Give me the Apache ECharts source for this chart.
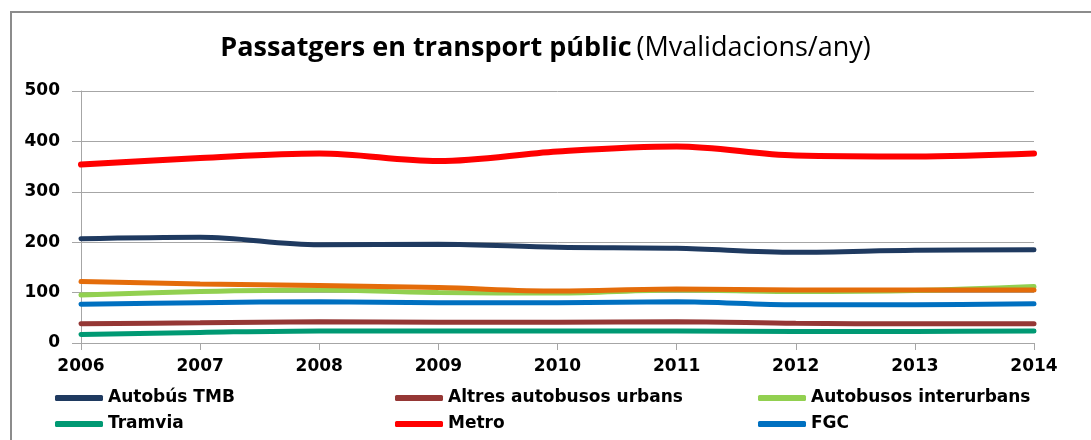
<!DOCTYPE html>
<html>
<head>
<meta charset="utf-8">
<title>Passatgers en transport públic</title>
<script src="https://cdn.jsdelivr.net/npm/echarts@6/dist/echarts.min.js"></script>
<style>
  html, body {
    margin: 0;
    padding: 0;
    background: #fff;
  }
  .frame {
    position: absolute;
    left: 10px;
    top: 11px;
    width: 1100px;
    height: 460px;
    border: 2px solid #8c8c8c;
    box-sizing: border-box;
  }
  #chart {
    position: absolute;
    left: 0;
    top: 0;
    width: 1091px;
    height: 440px;
  }
</style>
</head>
<body>
<div class="frame"></div>
<div id="chart"></div>
<script>
// anys (eix X)
const years = ['2006', '2007', '2008', '2009', '2010', '2011', '2012', '2013', '2014']

// Mvalidacions/any, llegits del gràfic
const autobusTmb = [207, 210, 195, 196, 190, 188, 180, 184, 185]
const altresUrbans = [38, 40, 42, 41, 41, 42, 39, 38, 38]
const interurbans = [95, 102, 105, 100, 99, 105, 102, 104, 112]
const tramvia = [17, 21, 24, 24, 24, 24, 23, 23, 24]
const metro = [354, 367, 376, 361, 380, 390, 372, 370, 376]
const fgc = [77, 80, 82, 80, 80, 82, 76, 76, 78]
const renfe = [122, 117, 114, 110, 103, 107, 105, 105, 105]

const yTicks = { min: 0, max: 500, interval: 100 }

const chart = echarts.init(document.getElementById('chart'))

const titleFont = '"Open Sans", Lato, sans-serif'
const labelFont = '"DejaVu Sans", sans-serif'

const makeLine = (name, data, color, width) => ({
  name,
  type: 'line',
  data,
  smooth: 0.35,
  symbol: 'none',
  lineStyle: { color, width, cap: 'round' },
  itemStyle: { color }
})

const legendBase = {
  orient: 'vertical',
  top: 388,
  padding: 0,
  itemWidth: 48,
  itemHeight: 6,
  itemGap: 6,
  icon: 'roundRect',
  textStyle: {
    fontFamily: labelFont,
    fontSize: 17,
    fontWeight: 'bold',
    color: '#000',
    lineHeight: 20
  }
}

const option = {
  animation: false,
  title: {
    text: '{b|Passatgers en transport públic} {n|(Mvalidacions/any)}',
    left: 'center',
    top: 30,
    textStyle: {
      rich: {
        b: { fontFamily: titleFont, fontSize: 27, fontWeight: 'bold', color: '#000' },
        n: { fontFamily: titleFont, fontSize: 27, fontWeight: 'normal', color: '#000' }
      }
    }
  },
  grid: {
    left: 81,
    right: 57,
    top: 91,
    bottom: 97
  },
  legend: [
    { ...legendBase, left: 55, data: ['Autobús TMB', 'Tramvia'] },
    { ...legendBase, left: 395, data: ['Altres autobusos urbans', 'Metro'] },
    { ...legendBase, left: 758, data: ['Autobusos interurbans', 'FGC'] }
  ],
  xAxis: {
    type: 'category',
    data: years,
    boundaryGap: false,
    axisLine: { lineStyle: { color: '#a6a6a6', width: 1 } },
    axisTick: { show: true, length: 7, lineStyle: { color: '#a6a6a6' } },
    axisLabel: {
      fontFamily: labelFont,
      fontSize: 17,
      fontWeight: 'bold',
      color: '#000',
      margin: 15
    }
  },
  yAxis: {
    type: 'value',
    min: yTicks.min,
    max: yTicks.max,
    interval: yTicks.interval,
    axisLine: { show: true, lineStyle: { color: '#a6a6a6', width: 1 } },
    axisTick: { show: true, length: 9, lineStyle: { color: '#a6a6a6' } },
    splitLine: { lineStyle: { color: '#a6a6a6', width: 1 } },
    axisLabel: {
      fontFamily: labelFont,
      fontSize: 17,
      fontWeight: 'bold',
      color: '#000',
      margin: 21
    }
  },
  series: [
    makeLine('Autobús TMB', autobusTmb, '#1f3a60', 5),
    makeLine('Altres autobusos urbans', altresUrbans, '#953735', 5),
    makeLine('Autobusos interurbans', interurbans, '#92d050', 5),
    makeLine('Tramvia', tramvia, '#009973', 5),
    makeLine('Metro', metro, '#ff0000', 6),
    makeLine('FGC', fgc, '#0070c0', 5),
    makeLine('Renfe', renfe, '#e46c0a', 5)
  ]
}

chart.setOption(option)
window.addEventListener('resize', () => chart.resize())
</script>
</body>
</html>
